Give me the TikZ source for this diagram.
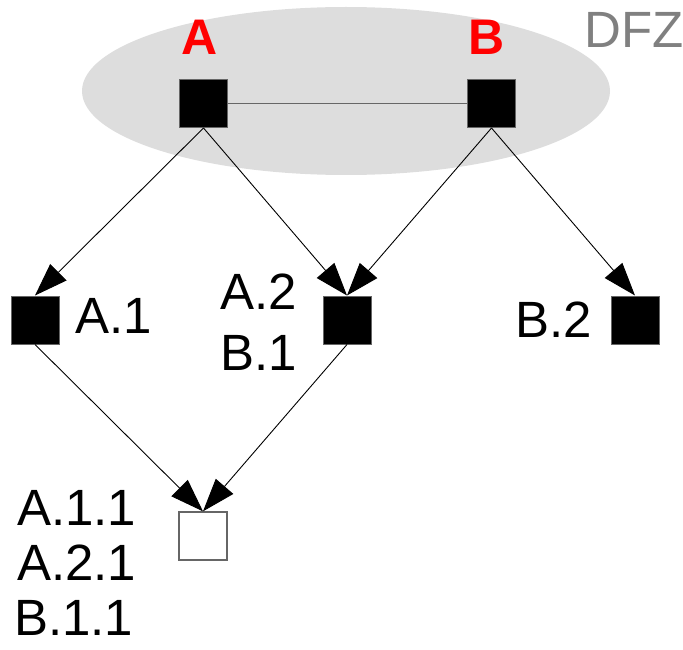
\documentclass[tikz,border=0pt]{standalone}
\usepackage{fontspec}
\setmainfont{Liberation Sans}
\usetikzlibrary{arrows.meta}
\definecolor{ellgray}{HTML}{DDDDDD}
\definecolor{dfzgray}{HTML}{808080}
\definecolor{edgegray}{HTML}{666666}
\begin{document}
\begin{tikzpicture}[x=1pt,y=-1pt,
  sq/.style={draw=edgegray, fill=black, minimum size=48pt, inner sep=0pt, line width=1pt},
  wsq/.style={draw=edgegray, fill=white, minimum size=48pt, inner sep=0pt, line width=1.3pt},
  lbl/.style={inner sep=0pt, font=\fontsize{51}{55}\selectfont},
  hdr/.style={inner sep=0pt, text=red, font=\fontsize{50}{55}\selectfont\bfseries},
  arr/.style={line width=0.9pt, -{Triangle[length=33pt,width=23pt]}},
]
\useasboundingbox (0,0) rectangle (683,650);
\fill[ellgray] (346,91) ellipse [x radius=264pt, y radius=84pt];

\node[sq] (A) at (203.5,103.5) {};
\node[sq] (B) at (491.5,103.5) {};
\node[sq] (A1) at (35,320) {};
\node[sq] (A2) at (347,320) {};
\node[sq] (B2) at (635,320) {};
\node[wsq] (C) at (203,536) {};

\draw[line width=1.4pt, edgegray] (A) -- (B);
\draw[arr] (A.south) -- (A1.north);
\draw[arr] (A.south) -- (A2.north);
\draw[arr] (B.south) -- (A2.north);
\draw[arr] (B.south) -- (B2.north);
\draw[arr] (A1.south) -- (C.north);
\draw[arr] (A2.south) -- (C.north);

\node[hdr, anchor=base] (lA) at (200,55) {A};
\node[hdr, anchor=base] (lB) at (487,55) {B};
\node[lbl, anchor=base east, text=dfzgray] (dfz) at (684,48) {DFZ};
\node[lbl, anchor=base west] (tA1) at (75,333) {A.1};
\node[lbl, anchor=base west] (tA2) at (220,309) {A.2};
\node[lbl, anchor=base west] (tB1) at (220,370) {B.1};
\node[lbl, anchor=base west] (tB2) at (515,337) {B.2};
\node[lbl, anchor=base west] (tA11) at (17,525) {A.1.1};
\node[lbl, anchor=base west] (tA21) at (17,580) {A.2.1};
\node[lbl, anchor=base west] (tB11) at (14,635) {B.1.1};
\end{tikzpicture}
\end{document}
